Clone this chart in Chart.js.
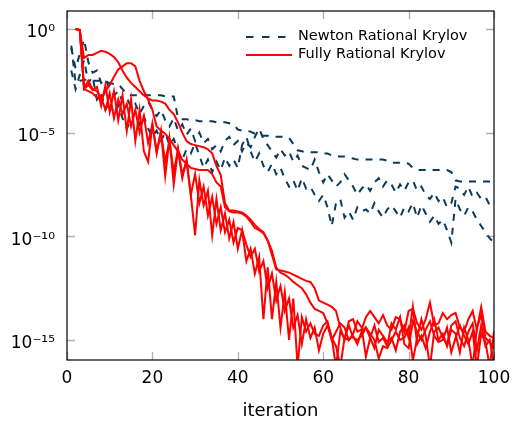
<!DOCTYPE html>
<html><head><meta charset="utf-8">
<script src="https://cdn.jsdelivr.net/npm/chart.js@4"></script>
<style>html,body{margin:0;padding:0;background:#fff}#wrap{width:513px;height:421px}</style>
</head><body><div id="wrap"><canvas id="c" width="513" height="421"></canvas></div>
<script>
// iteration numbers (x categories)
const iterations = Array.from({length:100},(_,i)=>i+1);
const xTicks = [0,20,40,60,80,100];
const yTickValues = [1,1e-5,1e-10,1e-15];
const yTickLabels = ['10⁰','10⁻⁵','10⁻¹⁰','10⁻¹⁵'];
const seriesNames = ['Newton Rational Krylov','Fully Rational Krylov'];

// residuals, stored as base-10 exponents
// Newton Rational Krylov runs start at iteration 1
const newtonA = [
-0.8,-2.6,-2.5,-2.45,-2.45,-2.5,-2.5,-2.5,-2.55,-2.6,
-2.65,-2.65,-2.9,-3.15,-3.2,-3.2,-3.2,-3.2,-3.2,-3.2,
-3.2,-3.2,-3.25,-3.25,-3.25,-4.3,-4.35,-4.35,-4.4,-4.4,
-4.45,-4.45,-4.45,-4.45,-4.5,-4.5,-4.5,-4.55,-4.6,-4.85,
-4.9,-4.9,-4.95,-5.05,-5.1,-5.15,-5.15,-5.2,-5.2,-5.2,
-5.2,-5.25,-5.55,-5.85,-5.9,-5.95,-5.95,-5.95,-5.95,-6.0,
-6.0,-6.1,-6.15,-6.15,-6.15,-6.2,-6.25,-6.3,-6.3,-6.3,
-6.3,-6.3,-6.3,-6.3,-6.35,-6.45,-6.45,-6.45,-6.45,-6.5,
-6.7,-6.8,-6.8,-6.8,-6.8,-6.8,-6.8,-6.8,-6.8,-6.9,
-7.3,-7.35,-7.35,-7.35,-7.35,-7.35,-7.35,-7.35,-7.35,-7.35];
const newtonB = [
-0.9,-1.9,-1.2,-0.5,-1.6,-2.1,-2.0,-2.6,-2.4,-2.9,
-3.2,-3.0,-3.5,-3.3,-3.8,-3.6,-4.1,-3.7,-3.5,-3.9,
-4.2,-3.9,-4.4,-4.7,-4.3,-4.9,-4.6,-5.1,-4.8,-5.4,
-5.0,-5.5,-5.3,-5.8,-5.6,-5.9,-5.4,-5.2,-5.6,-5.4,
-5.9,-5.5,-5.7,-5.2,-4.8,-5.3,-5.6,-5.9,-6.2,-5.8,
-6.1,-5.9,-6.4,-6.1,-6.6,-6.7,-6.8,-6.3,-6.9,-7.4,
-7.0,-7.3,-7.6,-7.4,-7.0,-7.3,-7.6,-8.0,-7.7,-7.5,
-7.8,-7.4,-7.2,-7.6,-7.3,-7.5,-7.9,-7.5,-7.8,-7.4,
-7.3,-7.8,-7.6,-8.0,-8.2,-7.9,-8.3,-8.1,-8.6,-8.4,
-7.6,-7.7,-8.0,-7.6,-8.1,-7.9,-8.2,-8.1,-8.5,-8.3];
const newtonC = [
-2.0,-2.9,-2.2,-1.5,-2.6,-2.3,-3.4,-3.1,-3.9,-3.5,
-4.1,-3.7,-4.3,-4.8,-4.4,-4.0,-4.6,-4.2,-4.8,-5.2,
-4.9,-5.4,-5.0,-5.6,-5.3,-5.9,-6.3,-5.8,-6.0,-5.5,
-6.1,-6.7,-6.3,-6.9,-6.4,-6.8,-6.2,-6.6,-6.3,-6.7,
-5.6,-5.2,-5.9,-6.4,-6.0,-6.6,-6.9,-6.5,-7.0,-6.7,
-7.2,-7.6,-7.3,-7.8,-7.2,-7.7,-7.6,-8.0,-8.3,-8.0,
-8.6,-9.5,-8.4,-8.2,-9.1,-8.8,-9.2,-8.6,-8.8,-8.7,
-8.9,-8.4,-8.8,-9.1,-8.7,-8.5,-8.8,-9.1,-8.6,-8.8,
-8.4,-9.1,-8.5,-8.9,-9.3,-9.0,-9.4,-9.2,-9.7,-10.3,
-8.2,-8.7,-9.0,-8.6,-8.8,-9.2,-9.5,-9.8,-10.1,-10.3];

// Fully Rational Krylov runs start at iteration 2
const fullyA = [
0,-0.05,-1.4,-1.25,-1.25,-1.15,-1.05,-1.1,-1.2,-1.35,
-1.6,-2.0,-2.35,-2.6,-2.8,-3.0,-3.2,-3.35,-3.45,-3.45,
-3.5,-3.6,-3.9,-4.1,-4.5,-5.0,-5.4,-5.55,-5.6,-5.65,
-5.7,-5.8,-6.0,-6.6,-7.05,-8.4,-8.75,-8.75,-8.8,-8.85,
-9.0,-9.2,-9.45,-9.65,-9.8,-10.2,-10.9,-11.6,-11.65,-11.7,
-11.75,-11.85,-11.95,-12.05,-12.15,-12.2,-12.5,-13.1,-13.2,-13.3,
-13.4,-13.6,-14.4,-15.0,-14.1,-14.0,-14.6,-14.5,-13.9,-13.6,
-13.9,-14.2,-13.8,-14.3,-14.5,-13.9,-14.0,-14.6,-13.6,-13.5,
-14.2,-14.5,-14.0,-13.2,-14.3,-14.2,-13.7,-14.0,-13.8,-13.7,
-14.4,-14.6,-14.0,-13.6,-14.5,-13.4,-14.6,-14.8,-14.9];
const fullyB = [
0,-0.05,-2.9,-3.0,-3.1,-3.3,-3.4,-3.0,-2.7,-2.3,
-1.95,-1.8,-1.65,-1.65,-1.8,-2.5,-3.0,-3.4,-3.9,-4.7,
-4.9,-5.05,-5.3,-5.6,-5.9,-6.3,-6.5,-6.7,-6.75,-6.8,
-6.8,-6.8,-7.0,-7.4,-7.6,-8.6,-8.8,-8.85,-8.85,-8.9,
-9.05,-9.3,-9.6,-9.7,-9.85,-10.2,-10.7,-11.5,-11.75,-11.85,
-12.0,-12.2,-12.35,-12.5,-12.8,-13.2,-13.5,-13.6,-13.7,-14.2,
-14.9,-15.3,-16.3,-14.9,-14.3,-14.9,-15.0,-14.8,-14.4,-14.7,
-15.0,-15.9,-15.3,-15.4,-15.0,-14.6,-15.0,-14.9,-14.4,-16.0,
-14.9,-14.0,-14.8,-16.3,-14.6,-14.4,-14.9,-15.2,-14.3,-14.1,
-14.9,-15.3,-14.6,-14.2,-15.5,-14.3,-15.3,-15.0,-16.2];
const fullyC = [
0,-0.05,-2.9,-2.7,-2.95,-2.8,-3.7,-2.7,-4.0,-3.0,
-4.4,-3.2,-4.9,-3.4,-5.4,-3.9,-5.9,-6.4,-4.6,-6.0,
-4.9,-7.1,-5.3,-7.5,-5.8,-7.0,-6.4,-8.0,-9.95,-7.3,
-8.5,-7.8,-9.95,-8.2,-9.7,-8.9,-10.1,-9.3,-10.6,-9.7,
-11.2,-10.6,-11.8,-11.0,-14.0,-11.5,-14.0,-12.2,-14.4,-12.7,
-15.0,-13.0,-16.3,-13.9,-14.6,-14.2,-14.7,-14.8,-14.3,-14.1,
-14.9,-16.3,-14.6,-14.9,-15.0,-14.8,-15.2,-14.6,-14.4,-14.9,
-14.3,-15.1,-14.9,-15.3,-14.2,-14.5,-13.9,-15.2,-15.4,-14.1,
-14.6,-15.0,-14.5,-14.1,-14.8,-15.1,-15.0,-14.4,-15.6,-14.9,
-14.3,-14.8,-15.2,-14.6,-16.3,-14.7,-15.1,-16.3,-14.6];
const fullyD = [
0,-0.05,-2.85,-2.5,-2.9,-3.0,-3.3,-3.9,-3.1,-4.3,
-3.4,-4.1,-3.6,-4.7,-3.9,-5.0,-4.2,-5.5,-4.6,-5.9,
-5.0,-6.4,-5.4,-6.9,-5.8,-7.2,-6.3,-8.0,-7.0,-8.4,
-7.6,-9.0,-8.1,-9.4,-8.6,-9.8,-9.2,-10.3,-9.6,-9.7,
-10.4,-11.0,-10.6,-11.7,-11.2,-12.5,-11.8,-13.1,-12.4,-13.6,
-13.0,-14.4,-13.8,-15.2,-14.0,-14.9,-14.4,-15.5,-14.7,-14.3,
-15.0,-14.6,-14.2,-14.4,-15.0,-14.7,-14.1,-14.4,-15.8,-14.9,
-15.4,-14.5,-14.8,-15.1,-14.9,-15.5,-14.6,-14.3,-14.9,-13.4,
-15.2,-14.8,-15.4,-14.6,-14.0,-15.0,-14.7,-15.3,-14.5,-14.7,
-15.6,-14.4,-15.0,-16.3,-14.4,-13.8,-14.9,-15.1,-15.4];

const NAVY = '#0b3a5d', RED = '#ff0000';

function pts(exps, offset){
  return exps.map((e,i)=>({x: iterations[i+offset], y: Math.pow(10,e)}));
}
const datasets = [];
[fullyA,fullyB,fullyC,fullyD].forEach(s=>datasets.push({
  label: seriesNames[1], data: pts(s,1), borderColor: RED, borderWidth: 2,
  pointRadius: 0, tension: 0, fill: false, order: 0
}));
[newtonA,newtonB,newtonC].forEach(s=>datasets.push({
  label: seriesNames[0], data: pts(s,0), borderColor: NAVY, borderWidth: 2,
  borderDash: [7,7], pointRadius: 0, tension: 0, fill: false, order: 1
}));

const decor = {
  id: 'decor',
  beforeDatasetsDraw(chart){
    const {ctx, chartArea:a, scales:{x,y}} = chart;
    ctx.save();
    ctx.strokeStyle = '#b0b0b0'; ctx.lineWidth = 1.3;
    const L = 8;
    xTicks.forEach(v=>{
      const px = Math.round(x.getPixelForValue(v))+0.5;
      ctx.beginPath();
      ctx.moveTo(px,a.bottom); ctx.lineTo(px,a.bottom-L);
      ctx.moveTo(px,a.top); ctx.lineTo(px,a.top+L);
      ctx.stroke();
    });
    yTickValues.forEach(v=>{
      const py = Math.round(y.getPixelForValue(v))+0.5;
      ctx.beginPath();
      ctx.moveTo(a.left,py); ctx.lineTo(a.left+L,py);
      ctx.moveTo(a.right,py); ctx.lineTo(a.right-L,py);
      ctx.stroke();
    });
    ctx.restore();
  },
  afterDatasetsDraw(chart){
    const {ctx, chartArea:a} = chart;
    ctx.save();
    ctx.strokeStyle = '#000'; ctx.lineWidth = 1.2;
    ctx.strokeRect(a.left, a.top, a.right-a.left, a.bottom-a.top);
    // legend
    const lx = a.right - 248, ly = a.top + 26;
    ctx.lineWidth = 2;
    ctx.strokeStyle = NAVY; ctx.setLineDash([7.5,8.5]);
    ctx.beginPath(); ctx.moveTo(lx,ly); ctx.lineTo(lx+40,ly); ctx.stroke();
    ctx.setLineDash([]);
    ctx.strokeStyle = RED;
    ctx.beginPath(); ctx.moveTo(lx,ly+18); ctx.lineTo(lx+46,ly+18); ctx.stroke();
    ctx.fillStyle = '#000';
    ctx.font = '14.5px "DejaVu Sans"';
    ctx.textBaseline = 'middle'; ctx.textAlign = 'left';
    ctx.fillText(seriesNames[0], lx+52, ly-1);
    ctx.fillText(seriesNames[1], lx+52, ly+17);
    ctx.restore();
  }
};

new Chart(document.getElementById('c'), {
  type: 'line',
  data: { datasets },
  options: {
    responsive: false, animation: false,
    layout: { padding: { left: 0, right: 19, top: 11, bottom: 0 } },
    plugins: { legend: { display: false }, tooltip: { enabled: false } },
    scales: {
      x: {
        type: 'linear', min: 0, max: 100,
        afterBuildTicks: s => { s.ticks = xTicks.map(v=>({value:v})); },
        ticks: { padding: 8, maxRotation: 0, autoSkip: false, color: '#000',
                 font: { family: 'DejaVu Sans', size: 17 } },
        grid: { display: false, drawTicks: false },
        border: { display: false },
        title: { display: true, text: 'iteration', color: '#000',
                 font: { family: 'DejaVu Sans', size: 18, lineHeight: 1 },
                 padding: { top: 0, bottom: 0.5 } },
        afterFit: s => { s.height = 61; s.paddingLeft = 0; s.paddingRight = 0; s.paddingTop = 0; s.paddingBottom = 0; }
      },
      y: {
        type: 'logarithmic', min: 1.08e-16, max: 7.4,
        afterBuildTicks: s => { s.ticks = yTickValues.map(v=>({value:v})); },
        ticks: { padding: 12, labelOffset: 4, color: '#000', autoSkip: false,
                 font: { family: 'DejaVu Sans', size: 17 },
                 callback: (v, i) => yTickLabels[i] },
        grid: { display: false, drawTicks: false },
        border: { display: false },
        afterFit: s => { s.width = 67; s.paddingTop = 0; s.paddingBottom = 0; s.paddingLeft = 0; s.paddingRight = 0; }
      }
    }
  },
  plugins: [decor]
});
</script>
</body></html>
